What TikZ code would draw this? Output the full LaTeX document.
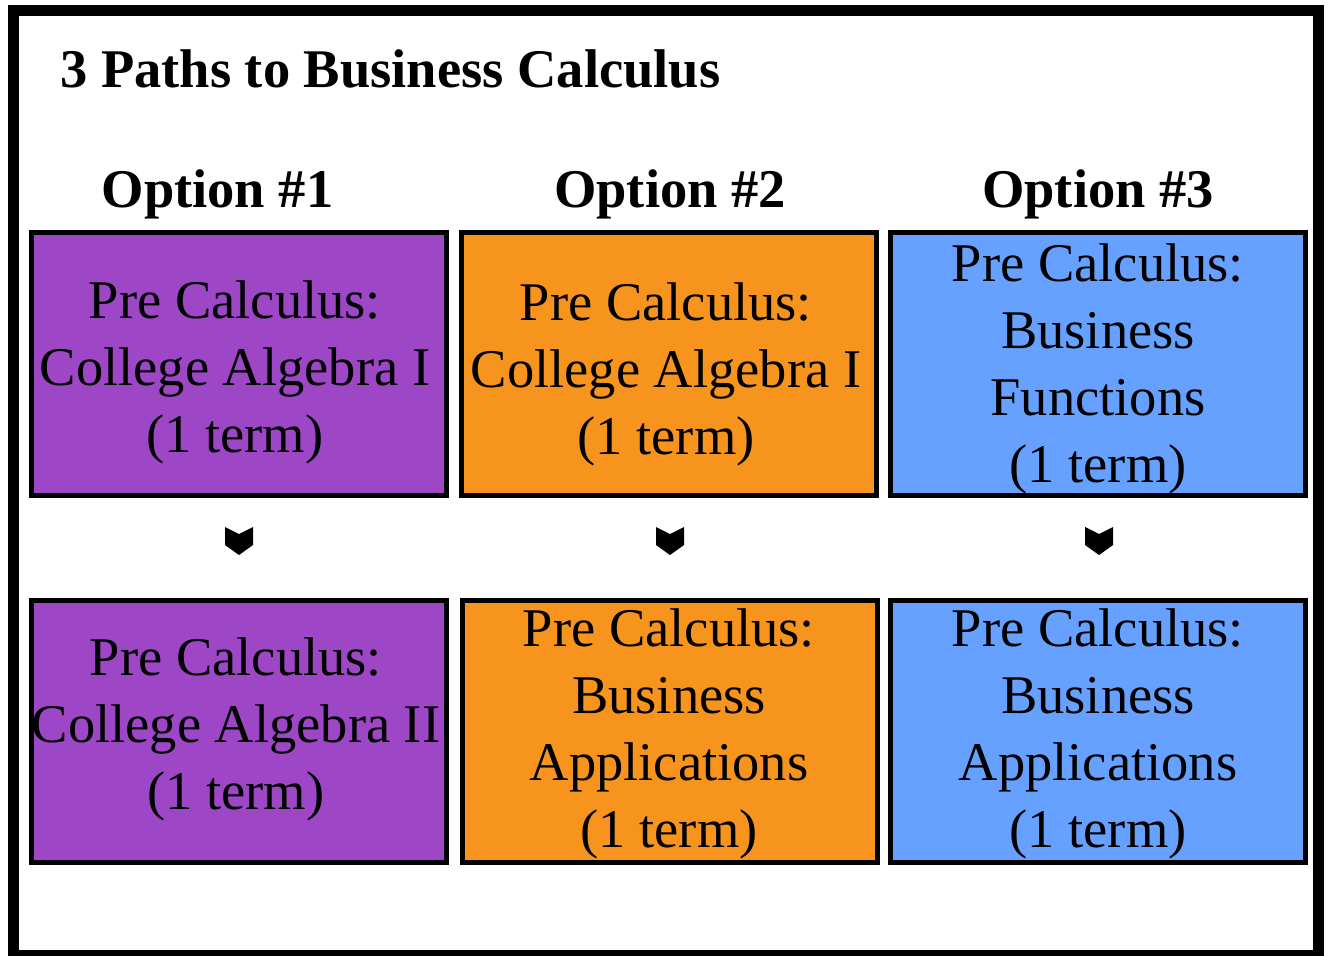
\documentclass[tikz,border=0pt]{standalone}
\usepackage{fontspec}
\setmainfont{Liberation Serif}
\definecolor{cpurple}{RGB}{157,71,198}
\definecolor{corange}{RGB}{247,148,30}
\definecolor{cblue}{RGB}{102,161,255}
\begin{document}
\begin{tikzpicture}[x=1pt,y=-1pt,
  box/.style={draw=black,line width=5pt,outer sep=0pt,minimum width=415pt,minimum height=262.5pt,inner sep=0pt,anchor=north west},
  txt/.style={align=center,font=\fontsize{54.5}{67}\selectfont,inner sep=0pt,anchor=base},
  hdr/.style={font=\fontsize{54.5}{67}\selectfont\bfseries,inner sep=0pt,anchor=base},
  chev/.style={fill=black}]
\useasboundingbox (0,0) rectangle (1332,955);
\draw[line width=11pt] (13.5,10.5) rectangle (1318.8,955.5);
\node[hdr,anchor=base west] (title) at (60,88) {3 Paths to Business Calculus};
\node[hdr] (h1) at (217.5,207) {Option \#1};
\node[hdr] (h2) at (670,207) {Option \#2};
\node[hdr] (h3) at (1098,207) {Option \#3};
% boxes
\node[box,fill=cpurple] (b1a) at (31,232.5) {};
\node[box,fill=corange] (b2a) at (461,232.5) {};
\node[box,fill=cblue] (b3a) at (890,232.5) {};
\node[box,fill=cpurple] (b1b) at (31,600) {};
\node[box,fill=corange] (b2b) at (462,600) {};
\node[box,fill=cblue] (b3b) at (890,600) {};
% texts (base anchor = last line baseline)
\node[txt] (t1a) at (235,452) {Pre Calculus:\\College Algebra I\\(1 term)};
\node[txt] (t2a) at (666,454) {Pre Calculus:\\College Algebra I\\(1 term)};
\node[txt] (t3a) at (1098,482) {Pre Calculus:\\Business\\Functions\\(1 term)};
\node[txt] (t1b) at (236,809) {Pre Calculus:\\College Algebra II\\(1 term)};
\node[txt] (t2b) at (669,847) {Pre Calculus:\\Business\\Applications\\(1 term)};
\node[txt] (t3b) at (1098,847) {Pre Calculus:\\Business\\Applications\\(1 term)};
% chevrons
\foreach \a/\b/\x in {b1a/b1b/239,b2a/b2b/670,b3a/b3b/1099}{
  \coordinate (m\a) at (\x,527);
  \fill[chev] (m\a) ++(-14,0) -- ++(14,7) -- ++(14,-7) -- ++(0,18) -- ++(-14,10) -- ++(-14,-10) -- cycle;
}
\end{tikzpicture}
\end{document}
